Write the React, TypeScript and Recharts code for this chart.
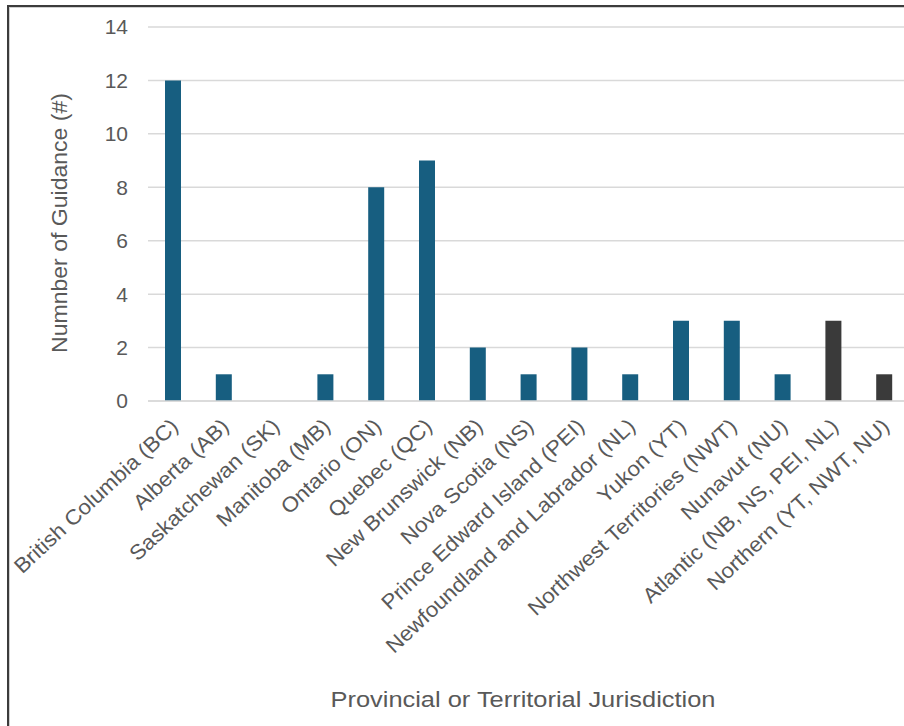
import React from 'react';
import { BarChart, Bar, XAxis, YAxis, CartesianGrid, Cell, Label } from 'recharts';

const categories = [
  'British Columbia (BC)',
  'Alberta (AB)',
  'Saskatchewan (SK)',
  'Manitoba (MB)',
  'Ontario (ON)',
  'Quebec (QC)',
  'New Brunswick (NB)',
  'Nova Scotia (NS)',
  'Prince Edward Island (PEI)',
  'Newfoundland and Labrador (NL)',
  'Yukon (YT)',
  'Northwest Territories (NWT)',
  'Nunavut (NU)',
  'Atlantic (NB, NS, PEI, NL)',
  'Northern (YT, NWT, NU)',
];
const counts = [12, 1, 0, 1, 8, 9, 2, 1, 2, 1, 3, 3, 1, 3, 1];
const isRegional = [false, false, false, false, false, false, false, false, false, false, false, false, false, true, true];
const yTicks = [0, 2, 4, 6, 8, 10, 12, 14];

const BLUE = '#175e80';
const DARK = '#3a3a3a';
const TEXT = '#595959';
const FONT = 'Arial, "Liberation Sans", sans-serif';

const data = categories.map((name, i) => ({ name, value: counts[i], regional: isRegional[i] }));

const XTick = (props: any) => {
  const { x, y, payload } = props;
  return (
    <g transform={`translate(${x + 6},${y + 27}) rotate(-43) scale(1.065,1)`}>
      <text x={0} y={0} textAnchor="end" fill={TEXT} fontSize={21} fontFamily={FONT}>
        {payload.value}
      </text>
    </g>
  );
};

const YTitle = () => (
  <g transform="translate(67,223) rotate(-90)">
    <text
      x={0}
      y={0}
      textAnchor="middle"
      fill={TEXT}
      fontSize={22}
      fontFamily={FONT}
      textLength={260}
      lengthAdjust="spacingAndGlyphs"
    >
      Numnber of Guidance (#)
    </text>
  </g>
);

const XTitle = () => (
  <text
    x={523}
    y={707}
    textAnchor="middle"
    fill={TEXT}
    fontSize={22}
    fontFamily={FONT}
    textLength={385}
    lengthAdjust="spacingAndGlyphs"
  >
    Provincial or Territorial Jurisdiction
  </text>
);

export default function App() {
  return (
    <div style={{ position: 'fixed', left: 0, top: 0, width: 904, height: 726, overflow: 'hidden', background: '#fff' }}>
      <div
        style={{
          position: 'absolute',
          left: 7,
          top: 5,
          width: 1200,
          height: 1200,
          borderLeft: '2px solid #3c3c3c',
          borderTop: '2px solid #3c3c3c',
          boxShadow: 'inset 1px 1px 0 #d0d0d0',
        }}
      />
      <div style={{ position: 'absolute', left: 0, top: 0 }}>
        <BarChart width={920} height={726} data={data} margin={{ top: 27, right: 10, left: 0, bottom: 0 }}>
          <CartesianGrid vertical={false} stroke="#d9d9d9" strokeWidth={1.5} />
          <XAxis
            dataKey="name"
            interval={0}
            height={325}
            tickSize={0}
            tickMargin={0}
            tickLine={false}
            axisLine={{ stroke: '#d9d9d9', strokeWidth: 1.5 }}
            tick={<XTick />}
          >
            <Label content={<XTitle />} />
          </XAxis>
          <YAxis
            width={148}
            domain={[0, 14]}
            ticks={yTicks}
            interval={0}
            axisLine={false}
            tickLine={false}
            tickSize={0}
            tickMargin={20}
            tick={{ fill: TEXT, fontSize: 21, fontFamily: FONT }}
          >
            <Label content={<YTitle />} />
          </YAxis>
          <Bar dataKey="value" barSize={16} isAnimationActive={false}>
            {data.map((d, i) => (
              <Cell key={i} fill={d.regional ? DARK : BLUE} />
            ))}
          </Bar>
        </BarChart>
      </div>
    </div>
  );
}
